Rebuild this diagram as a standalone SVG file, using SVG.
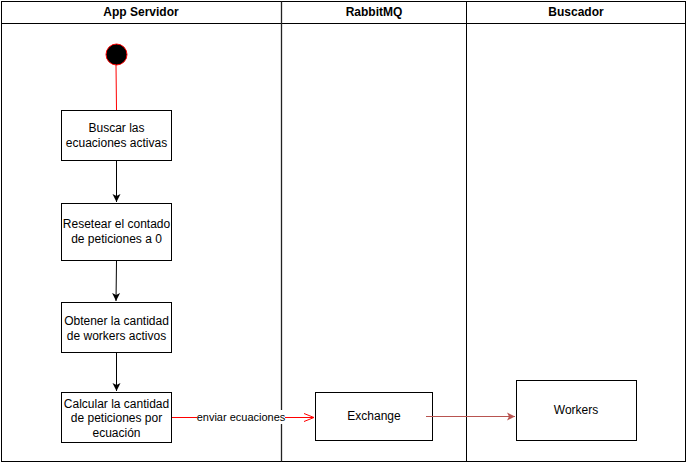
<svg xmlns="http://www.w3.org/2000/svg" width="687" height="463" viewBox="0 0 687 463">
<defs>
<style>
.lane{fill:none;stroke:#000;stroke-width:1}
.hdr{font-family:"Liberation Sans",Arial,sans-serif;font-size:12px;font-weight:bold;fill:#000;text-anchor:middle}
.box{fill:#fff;stroke:#000;stroke-width:1}
.t{font-family:"Liberation Sans",Arial,sans-serif;font-size:12px;fill:#000;text-anchor:middle}
.flow{fill:none;stroke:#000;stroke-width:1}
.red{fill:none;stroke:#ff0000;stroke-width:1}
.red2{fill:none;stroke:#b85450;stroke-width:1}
</style>
<marker id="blk" markerWidth="10" markerHeight="10" refX="8" refY="5" orient="auto" markerUnits="userSpaceOnUse">
<path d="M0,1 L8,5 L0,9 L2,5 Z" fill="#000"/>
</marker>
<marker id="open" markerWidth="12" markerHeight="12" refX="10" refY="6" orient="auto" markerUnits="userSpaceOnUse">
<path d="M0,2 L10,6 L0,10" fill="none" stroke="#ff0000" stroke-width="1"/>
</marker>
<marker id="rfill" markerWidth="10" markerHeight="10" refX="8" refY="5" orient="auto" markerUnits="userSpaceOnUse">
<path d="M0,1 L8,5 L0,9 L2,5 Z" fill="#b85450"/>
</marker>
</defs>
<rect width="687" height="463" fill="#fff"/>
<g id="pool">
<rect class="lane" x="1.5" y="1.5" width="684" height="460"/>
<line class="lane" x1="1.5" y1="23.5" x2="685.5" y2="23.5"/>
<line x1="281.5" y1="1.5" x2="281.5" y2="461.5" stroke="#222" stroke-width="1.3"/>
<line class="lane" x1="466.5" y1="1.5" x2="466.5" y2="461.5"/>
<text class="hdr" x="141" y="16">App Servidor</text>
<text class="hdr" x="374" y="16">RabbitMQ</text>
<text class="hdr" x="576" y="16">Buscador</text>
</g>
<g id="start">
<circle cx="116.5" cy="54.5" r="10.5" fill="#000" stroke="#ff0000" stroke-width="1"/>
</g>
<g id="buscar">
<rect class="box" x="61.5" y="110.5" width="110" height="50"/>
<text class="t" x="116.5" y="132">Buscar las</text>
<text class="t" x="116.5" y="147">ecuaciones activas</text>
</g>
<g id="resetear">
<rect class="box" x="61.5" y="203.5" width="110" height="57"/>
<text class="t" x="116.5" y="228">Resetear el contado</text>
<text class="t" x="116.5" y="243">de peticiones a 0</text>
</g>
<g id="obtener">
<rect class="box" x="61.5" y="302.5" width="110" height="50"/>
<text class="t" x="116.5" y="325">Obtener la cantidad</text>
<text class="t" x="116.5" y="340">de workers activos</text>
</g>
<g id="calcular">
<rect class="box" x="61.5" y="392.5" width="110" height="50"/>
<text class="t" x="116.5" y="408">Calcular la cantidad</text>
<text class="t" x="116.5" y="422">de peticiones por</text>
<text class="t" x="116.5" y="437">ecuación</text>
</g>
<g id="exchange">
<rect class="box" x="315.5" y="392.5" width="117" height="48"/>
<text class="t" x="374" y="420">Exchange</text>
</g>
<g id="workers">
<rect class="box" x="516.5" y="380.5" width="120" height="60"/>
<text class="t" x="576" y="414" fill="#333">Workers</text>
</g>
<g id="connectors">
<line class="red" x1="116" y1="65" x2="116.5" y2="110"/>
<line class="flow" x1="116.5" y1="161" x2="116.5" y2="202" marker-end="url(#blk)"/>
<line class="flow" x1="116.5" y1="261" x2="116" y2="301" marker-end="url(#blk)"/>
<line class="flow" x1="116.5" y1="353" x2="116.5" y2="391" marker-end="url(#blk)"/>
<line class="red" x1="172" y1="417.5" x2="314" y2="417.5" marker-end="url(#open)"/>
<rect x="197" y="410" width="88" height="14" fill="#fff"/>
<text class="t" x="241" y="421" style="font-size:11px">enviar ecuaciones</text>
<line class="red2" x1="426" y1="416.5" x2="515" y2="416.5" marker-end="url(#rfill)"/>
</g>
</svg>
